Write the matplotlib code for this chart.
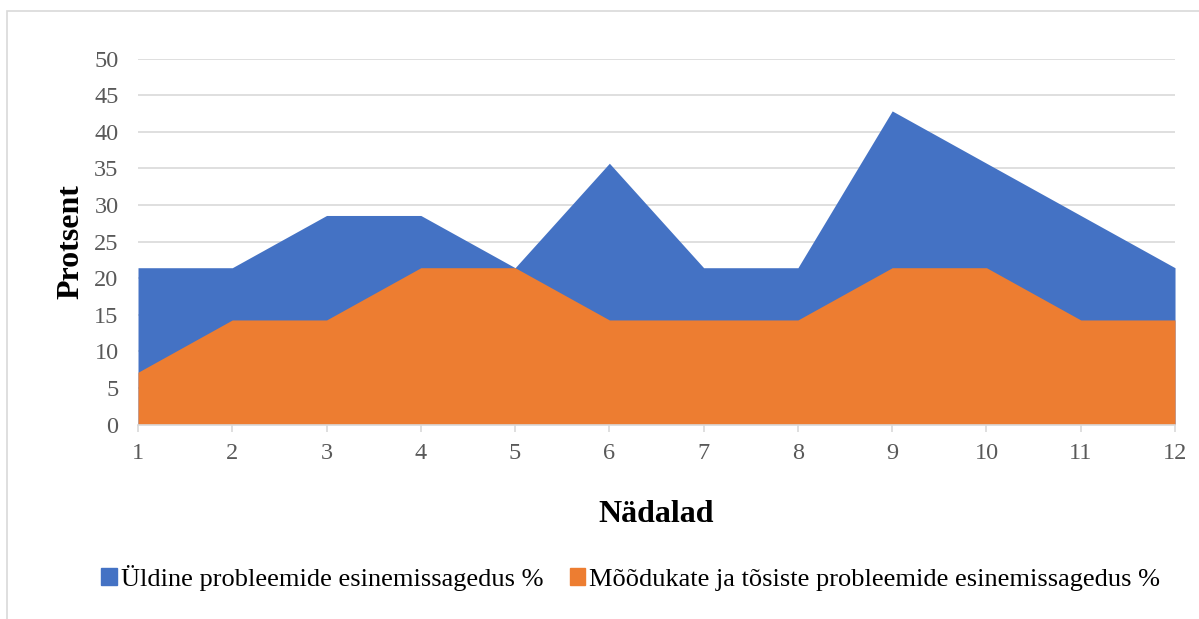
import numpy as np
import matplotlib.pyplot as plt
from matplotlib.patches import Rectangle, Patch

plt.rcParams['font.family'] = ['Liberation Serif', 'DejaVu Serif']

weeks = [1, 2, 3, 4, 5, 6, 7, 8, 9, 10, 11, 12]
general = [21.43, 21.43, 28.57, 28.57, 21.43, 35.71, 21.43, 21.43, 42.86, 35.71, 28.57, 21.43]
serious = [7.14, 14.29, 14.29, 21.43, 21.43, 14.29, 14.29, 14.29, 21.43, 21.43, 14.29, 14.29]
labels = ['Üldine probleemide esinemissagedus %',
          'Mõõdukate ja tõsiste probleemide esinemissagedus %']
blue = '#4472C4'
orange = '#ED7D31'

fig = plt.figure(figsize=(11.99, 6.19), dpi=100)
ax = fig.add_axes([0.1151, 0.3142, 0.98 - 0.1151, 0.9052 - 0.3142])

# chart border
fig.patches.append(Rectangle((7 / 1199, -0.1), 1.2, 1 - 11 / 619 + 0.1,
                             transform=fig.transFigure, fill=False,
                             edgecolor='#d9d9d9', lw=1.2))

ax.fill_between(weeks, 0, general, color=blue, lw=0, zorder=2)
ax.fill_between(weeks, 0, serious, color=orange, lw=0, zorder=3)

ax.set_xlim(1, 12)
ax.set_ylim(0, 50)
ax.set_yticks(np.arange(0, 51, 5))
ax.set_xticks(weeks)
ax.grid(axis='y', color='#d9d9d9', lw=1.2, zorder=1)
for s in ['top', 'right', 'left']:
    ax.spines[s].set_visible(False)
ax.spines['bottom'].set_color('#d9d9d9')
ax.spines['bottom'].set_linewidth(1.2)
ax.spines['bottom'].set_zorder(4)
ax.tick_params(axis='y', length=0, pad=14, labelsize=17.5, labelcolor='#595959')
ax.tick_params(axis='x', length=5, color='#d9d9d9', width=1.2, pad=8,
               labelsize=17.5, labelcolor='#595959')

ax.set_ylabel('Protsent', fontsize=23, fontweight='bold', labelpad=6)
ax.set_xlabel('Nädalad', fontsize=23, fontweight='bold', labelpad=26)

handles = [Patch(color=blue), Patch(color=orange)]
fig.legend(handles, labels, loc='center', bbox_to_anchor=(0.526, 0.066), ncol=2,
           frameon=False, fontsize=19, handlelength=0.6, handleheight=0.6,
           handletextpad=0.15, columnspacing=1.0)

fig.savefig('out.png', dpi=100)
